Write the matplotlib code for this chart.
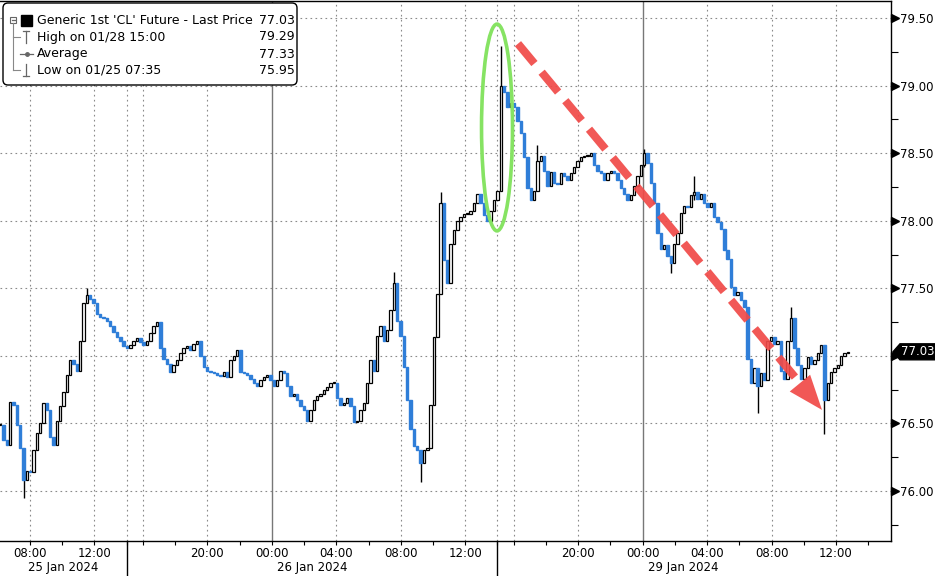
import matplotlib
matplotlib.use('Agg')
import matplotlib.pyplot as plt
from matplotlib.patches import Ellipse, FancyBboxPatch, Rectangle, Polygon
from matplotlib.lines import Line2D
from matplotlib.transforms import blended_transform_factory, IdentityTransform, ScaledTranslation

W, H = 935, 576

# Generic 1st CL future, intraday bar closes (oldest first)
closes = [
    76.49, 76.38, 76.34, 76.66, 76.64, 76.49, 76.32, 76.08, 76.15, 76.14,
    76.30, 76.43, 76.50, 76.65, 76.60, 76.40, 76.34, 76.52, 76.63, 76.73,
    76.86, 76.97, 76.94, 76.89, 77.11, 77.39, 77.45, 77.42, 77.39, 77.31,
    77.29, 77.28, 77.26, 77.22, 77.18, 77.14, 77.11, 77.07, 77.06, 77.08,
    77.11, 77.13, 77.10, 77.08, 77.11, 77.17, 77.22, 77.25, 77.06, 76.98,
    76.94, 76.88, 76.93, 76.97,
    77.02, 77.06, 77.07, 77.04, 77.09, 77.11, 77.00, 76.92, 76.89, 76.88,
    76.87, 76.86, 76.85, 76.88, 76.84, 76.97, 77.00, 77.04, 76.88, 76.87,
    76.86, 76.83, 76.80, 76.78, 76.82, 76.84, 76.86, 76.82, 76.78, 76.82,
    76.89, 76.87, 76.78, 76.70, 76.72, 76.67, 76.63, 76.60, 76.52, 76.60,
    76.67, 76.70, 76.72, 76.75, 76.77, 76.80, 76.80, 76.69, 76.64, 76.65,
    76.69, 76.63, 76.51, 76.52,
    76.60, 76.65, 76.80, 76.97, 76.89, 77.15, 77.22, 77.11, 77.19, 77.34,
    77.54, 77.26, 77.15, 76.92, 76.67, 76.46, 76.33, 76.30, 76.21, 76.30,
    76.32, 76.64, 77.14, 77.46, 78.13, 77.71, 77.54, 77.83, 77.93, 78.00,
    78.03, 78.05, 78.05, 78.07, 78.13, 78.20, 78.13, 78.04, 78.00, 78.07,
    78.15, 78.22, 79.00, 78.95, 78.84, 78.87, 78.84, 78.74, 78.65, 78.47,
    78.24, 78.15, 78.22, 78.44, 78.48, 78.37, 78.26, 78.36, 78.28, 78.27,
    78.35, 78.33, 78.30, 78.35, 78.40, 78.44, 78.47, 78.48, 78.48, 78.50,
    78.41, 78.37, 78.35, 78.30, 78.35, 78.37, 78.35, 78.30, 78.24, 78.20,
    78.15, 78.19, 78.26, 78.33, 78.41, 78.50, 78.43, 78.28, 78.13, 77.91,
    77.79, 77.82, 77.74, 77.69, 77.83, 77.91, 78.06, 78.11, 78.10, 78.19,
    78.21, 78.16, 78.20, 78.13, 78.10, 78.13, 78.03, 77.99, 77.94, 77.78,
    77.72, 77.51, 77.45, 77.47, 77.41, 77.36, 76.98, 76.80, 76.91, 76.78,
    76.87, 76.82, 77.11, 77.14, 77.09, 77.11, 76.89, 76.83, 77.11, 77.28,
    77.06, 76.93, 76.83, 76.91, 76.99, 76.94, 76.97, 77.02, 77.08, 76.67,
    76.80, 76.88, 76.91, 76.93, 77.00, 77.02, 77.03,
]

# bars with a visible wick beyond their body
wick_bars = [7, 26, 118, 126, 132, 150, 161, 193, 201, 208, 227, 237, 247]
wick_low = [75.95, 77.42, 77.45, 76.07, 77.95, 78.74, 78.40, 78.40, 77.61, 78.15, 76.58, 77.22, 76.42]
wick_high = [76.10, 77.50, 77.62, 76.25, 78.21, 79.29, 78.56, 78.53, 77.72, 78.33, 76.80, 77.36, 76.70]

legend_rows = ["Generic 1st 'CL' Future - Last Price", "High on 01/28 15:00", "Average", "Low on 01/25 07:35"]
legend_values = ["77.03", "79.29", "77.33", "75.95"]
last_price = 77.03

y_major = [76.0, 76.5, 77.0, 77.5, 78.0, 78.5, 79.0, 79.5]
y_major_labels = ['76.00', '76.50', '', '77.50', '78.00', '78.50', '79.00', '79.50']
y_minor = [75.75, 76.25, 76.75, 77.25, 77.75, 78.25, 78.75, 79.25]

grid_times = [(25, 8), (25, 12), (25, 16), (25, 20), (26, 0), (26, 4), (26, 8), (26, 12),
              (28, 16), (28, 20), (29, 0), (29, 4), (29, 8), (29, 12)]
grid_labels = ['08:00', '12:00', '', '20:00', '00:00', '04:00', '08:00', '12:00',
               '', '20:00', '00:00', '04:00', '08:00', '12:00']
minor_times = [(25, 10), (25, 14), (25, 18), (25, 22), (26, 2), (26, 6), (26, 10), (26, 14),
               (28, 18), (28, 22), (29, 2), (29, 6), (29, 10), (29, 14)]
session_breaks = [(25, 14), (26, 14)]
midnights = [(26, 0), (29, 0)]
day_labels = ['25 Jan 2024', '26 Jan 2024', '29 Jan 2024']

BAR_START = (25, 6.15)
BAR_STEP_H = 0.207


def trade_hours(day, hour):
    # compressed trading clock: the 14:00-15:00 break and the weekend are dropped
    if day == 25 and hour <= 14:
        return hour - 8
    if day == 25:
        return hour - 9
    if day == 26:
        return hour + 15
    if day == 28:
        return hour + 14
    return hour + 38


BLUE = '#2f7ed8'
GRID = '#8a8a8a'
FS = 8.5

fig = plt.figure(figsize=(W / 100, H / 100), dpi=100)
ax = fig.add_axes([0, 35 / H, 891 / W, 540 / H])

XMIN, XMAX = -1.86, 53.41
ax.set_xlim(XMIN, XMAX)
ax.set_ylim(75.63, 79.626)

# candles: open is the previous close
x0 = trade_hours(*BAR_START)
xs = [x0 + i * BAR_STEP_H for i in range(len(closes))]
opens = [closes[0]] + closes[:-1]
for x, o, c in zip(xs, opens, closes):
    if c < o:
        ax.bar(x, c - o, bottom=o, width=0.15, color=BLUE, edgecolor=BLUE, linewidth=1.0, zorder=3)
    else:
        ax.bar(x, max(c - o, 0.004), bottom=o, width=0.15, facecolor='white', edgecolor='black',
               linewidth=0.9, zorder=3)
for b, lo, hi in zip(wick_bars, wick_low, wick_high):
    ax.vlines(xs[b], lo, hi, color='black', lw=1.0, zorder=2.9)

# grid
for y in y_major:
    ax.axhline(y, color=GRID, lw=0.8, ls=(0, (1.5, 3)), zorder=1)
for t in grid_times + session_breaks:
    if t not in midnights:
        ax.axvline(trade_hours(*t), color=GRID, lw=0.8, ls=(0, (1.5, 3)), zorder=1)
for t in midnights:
    ax.axvline(trade_hours(*t), color='#777777', lw=1.0, zorder=1)

# spines
ax.spines['left'].set_visible(False)
for s in ['right', 'bottom', 'top']:
    ax.spines[s].set_color('black')
    ax.spines[s].set_linewidth(1.0)

# x axis
ax.set_xticks([trade_hours(*t) for t in grid_times])
ax.set_xticklabels(grid_labels, fontsize=FS)
ax.set_xticks([trade_hours(*t) for t in minor_times], minor=True)
ax.tick_params(axis='x', which='both', direction='out', length=3, width=0.8, pad=1.5, colors='black')

xb = blended_transform_factory(ax.transData, ax.transAxes)
for t in session_breaks:
    p = trade_hours(*t)
    ax.plot([p, p], [0, -0.07], color='black', lw=1.0, transform=xb, clip_on=False)
spans = [(XMIN, trade_hours(25, 14)), (trade_hours(25, 15), trade_hours(26, 14)),
         (trade_hours(28, 15), trade_hours(29, 14))]
for (a, b), lab in zip(spans, day_labels):
    ax.text((a + b) / 2, -0.049, lab, transform=xb, ha='center', va='center', fontsize=FS)

# y axis on the right
ax.yaxis.tick_right()
ax.set_yticks(y_major)
ax.set_yticklabels(y_major_labels, fontsize=FS)
ax.set_yticks(y_minor, minor=True)
ax.tick_params(axis='y', which='major', length=0, pad=6.5)
ax.tick_params(axis='y', which='minor', length=5, width=0.8, direction='out', colors='black')
yb = blended_transform_factory(ax.transAxes, ax.transData)
tri = yb + ScaledTranslation(4 / 100, 0, fig.dpi_scale_trans)
ax.plot([1.0] * len(y_major), y_major, ls='none', marker='>', ms=5.5, color='black',
        transform=tri, clip_on=False)

# last price tag
py = ax.transData.transform((0, last_price))[1]
px = ax.transAxes.transform((1, 0))[0]
tag = Polygon([(px + 2, py), (px + 9, py + 8), (W, py + 8), (W, py - 8), (px + 9, py - 8)],
              closed=True, fc='black', ec='black', transform=IdentityTransform())
fig.add_artist(tag)
fig.text((px + 9 + W) / 2 / W, py / H, f'{last_price:.2f}', color='white', ha='center', va='center',
         fontsize=FS)

# annotations: green ellipse around the weekend spike, red dashed arrow
ell_c = (28.97, 78.69)
ax.add_patch(Ellipse(ell_c, 1.92, 1.53, fill=False, ec='#86e363', lw=2.6, zorder=5))
arrow_start = (30.27, 79.31)
arrow_base = (47.75, 76.80)
arrow_tip = (49.13, 76.60)
RED = '#f04a48'
ax.plot([arrow_start[0], arrow_base[0]], [arrow_start[1], arrow_base[1]], color=RED, lw=5.8,
        dashes=(3.2, 1.4), solid_capstyle='butt', dash_capstyle='butt', alpha=0.92, zorder=6)
ax.annotate('', xy=arrow_tip, xytext=arrow_base,
            arrowprops=dict(arrowstyle='-|>,head_length=2.5,head_width=0.95', color=RED, lw=0,
                            shrinkA=0, shrinkB=0, alpha=0.92), zorder=6)


# legend box (pixel coordinates from the top-left corner)
def px_line(xs_, ys_, **kw):
    fig.add_artist(Line2D(xs_, [H - v for v in ys_], transform=IdentityTransform(), **kw))


box = FancyBboxPatch((3, H - 85), 294, 82, boxstyle='round,pad=0,rounding_size=5',
                     fc='white', ec='black', lw=1.0, transform=IdentityTransform(), zorder=10)
fig.add_artist(box)
row_y = [21, 37, 54, 70]
for yy, lab, val in zip(row_y, legend_rows, legend_values):
    fig.text(37 / W, 1 - yy / H, lab, ha='left', va='center', fontsize=9.0, zorder=11)
    fig.text(295 / W, 1 - yy / H, val, ha='right', va='center', fontsize=9.0, zorder=11)
ic = dict(color='#666666', lw=0.9, zorder=11)
fig.add_artist(Rectangle((10, H - 23), 6, 6, fill=False, ec='#666666', lw=0.8,
                         transform=IdentityTransform(), zorder=11))
px_line([11.5, 14.5], [20, 20], **ic)
px_line([13, 13], [23, 70], color='#888888', lw=0.8, zorder=11)
px_line([13, 20], [37, 37], color='#888888', lw=0.8, zorder=11)
px_line([13, 20], [70, 70], color='#888888', lw=0.8, zorder=11)
fig.add_artist(Rectangle((21, H - 26), 11, 11, fc='black', ec='black',
                         transform=IdentityTransform(), zorder=11))
px_line([26, 26], [31, 43], **ic)
px_line([23, 29], [31, 31], **ic)
px_line([20, 33], [54, 54], **ic)
px_line([26.5], [54], marker='o', ms=2.5, ls='none', color='#666666', zorder=11)
px_line([26, 26], [64, 76], **ic)
px_line([23, 29], [76, 76], **ic)

fig.savefig('out.png', dpi=100)
